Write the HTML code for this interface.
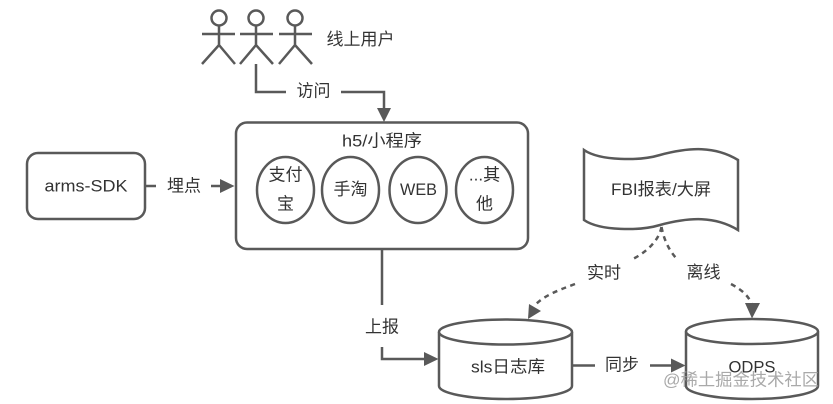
<!DOCTYPE html>
<html>
<head>
<meta charset="utf-8">
<style>
html,body{margin:0;padding:0;background:#fff}
svg{display:block;filter:blur(.35px)}
text{font-family:"Liberation Sans","Noto Sans CJK SC",sans-serif;fill:#333;font-size:17px;text-anchor:middle;dominant-baseline:central}
.s{fill:none;stroke:#595959;stroke-width:2.5}
.w{fill:#fff;stroke:#595959;stroke-width:2.5}
.a{fill:#595959;stroke:none}
.d{fill:none;stroke:#595959;stroke-width:2.5;stroke-dasharray:5 4.500}
</style>
</head>
<body>
<svg width="833" height="404" viewBox="0 0 833 404" xmlns="http://www.w3.org/2000/svg">
<rect width="833" height="404" fill="#fff"/>

<!-- users -->
<g class="s">
<circle cx="219" cy="18" r="7.500"/><path d="M219 25.500V45M202 34H235M202 64L219 45L235 64"/>
<circle cx="256" cy="18" r="7.500"/><path d="M256 25.500V45M240 34H273M240 64L256 45L273 64"/>
<circle cx="295" cy="18" r="7.500"/><path d="M295 25.500V45M279 34H312M279 64L295 45L312 64"/>
</g>
<text x="360.500" y="39.500">线上用户</text>

<!-- visit connector -->
<path class="s" d="M256 64V92H286M341 92H384V109"/>
<polygon class="a" points="377,108 391,108 384,122"/>
<text x="313.500" y="91">访问</text>

<!-- main box -->
<rect class="w" x="236" y="122.500" width="292" height="126.500" rx="11"/>
<text x="382" y="141" textLength="80" lengthAdjust="spacingAndGlyphs">h5/小程序</text>
<ellipse class="w" cx="285.500" cy="190" rx="28.500" ry="33"/>
<ellipse class="w" cx="350.500" cy="190" rx="28.500" ry="33"/>
<ellipse class="w" cx="418" cy="190" rx="28.500" ry="33"/>
<ellipse class="w" cx="484.500" cy="190" rx="28.500" ry="33"/>
<text x="285.500" y="175">支付</text>
<text x="285.500" y="204">宝</text>
<text x="350.500" y="189.500">手淘</text>
<text x="418.500" y="189.500" textLength="37" lengthAdjust="spacingAndGlyphs">WEB</text>
<text x="484.500" y="175">...其</text>
<text x="484.500" y="204">他</text>

<!-- sdk -->
<rect class="w" x="27" y="153" width="118" height="66" rx="11"/>
<text x="86" y="186" textLength="83" lengthAdjust="spacingAndGlyphs">arms-SDK</text>
<path class="s" d="M146 186H156M211 186H221"/>
<polygon class="a" points="220,179 234.500,186 220,193"/>
<text x="184" y="186">埋点</text>

<!-- report -->
<path class="s" d="M382 249V305M382 347V359H425"/>
<polygon class="a" points="424,352 438.500,359 424,366"/>
<text x="382" y="327">上报</text>

<!-- doc -->
<path class="w" d="M584 150C600 161 640 161 660 155C690 147 715 146 738 160V230C715 216 690 217 660 225C640 231 600 231 584 220Z"/>
<text x="661" y="189.500" textLength="100" lengthAdjust="spacingAndGlyphs">FBI报表/大屏</text>

<!-- dashed -->
<path class="d" d="M661.500 227C659 240 648 251 633 259"/>
<path class="d" d="M575 284C556 291 544 296 535 305"/>
<polygon class="a" points="529,304 541,311 528,319"/>
<text x="604" y="273">实时</text>
<path class="d" d="M661.500 227C664 240 669 250 676 258"/>
<path class="d" d="M731 284C742 290 749 296 752 305"/>
<polygon class="a" points="745,303 760,303 752,318.500"/>
<text x="703.500" y="272.500">离线</text>

<!-- sls -->
<path class="w" d="M439 332V386C439 393 468 399 505.500 399C543 399 572 393 572 386V332"/>
<ellipse class="w" cx="505.500" cy="332" rx="66.500" ry="12.500"/>
<text x="508" y="367" textLength="74" lengthAdjust="spacingAndGlyphs">sls日志库</text>

<!-- sync -->
<path class="s" d="M572 365.500H595M650 365.500H672"/>
<polygon class="a" points="671,358.500 685.500,365.500 671,372.500"/>
<text x="622" y="365">同步</text>

<!-- odps -->
<path class="w" d="M686 331.500V386C686 393 714 399 752 399C790 399 818 393 818 386V331.500"/>
<ellipse class="w" cx="752" cy="331.500" rx="66" ry="12.500"/>
<text x="752" y="367" textLength="47" lengthAdjust="spacingAndGlyphs">ODPS</text>

<!-- watermark -->
<text x="741" y="380" textLength="156" lengthAdjust="spacingAndGlyphs" style="font-size:17px;fill:#9a9a9a;fill-opacity:.85">@稀土掘金技术社区</text>
</svg>
</body>
</html>
